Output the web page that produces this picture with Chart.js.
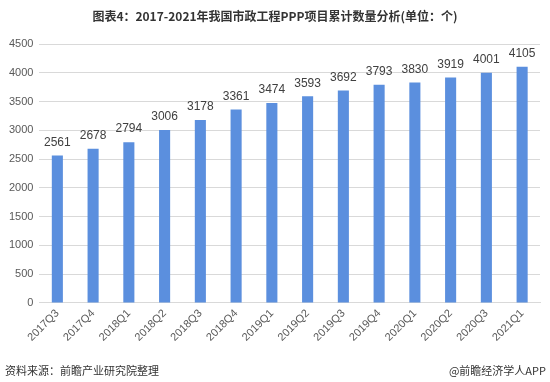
<!DOCTYPE html>
<html>
<head>
<meta charset="utf-8">
<script src="https://cdn.jsdelivr.net/npm/chart.js@4/dist/chart.umd.min.js"></script>
<style>
  html, body { margin: 0; padding: 0; background: #fff; }
  #wrap { position: relative; width: 550px; height: 382px; overflow: hidden; }
  #c { position: absolute; left: 0; top: 0; }
  .title { position: absolute; top: 7px; left: 0; width: 550px; text-align: center;
    font-family: "Noto Sans CJK SC", sans-serif; font-weight: bold; font-size: 12px; color: #333; }
  .src { position: absolute; top: 362px; left: 5px; font-family: "Noto Sans CJK SC", sans-serif; font-size: 11px; color: #333; }
  .app { position: absolute; top: 362px; right: 4px; font-family: "Noto Sans CJK SC", sans-serif; font-size: 11px; color: #333; }
</style>
</head>
<body>
<div id="wrap">
  <canvas id="c" width="550" height="382"></canvas>
  <div class="title">图表4：2017-2021年我国市政工程PPP项目累计数量分析(单位：个)</div>
  <div class="src">资料来源：前瞻产业研究院整理</div>
  <div class="app">@前瞻经济学人APP</div>
</div>
<script>
const categories = ["2017Q3","2017Q4","2018Q1","2018Q2","2018Q3","2018Q4","2019Q1","2019Q2","2019Q3","2019Q4","2020Q1","2020Q2","2020Q3","2021Q1"];
const values = [2561,2678,2794,3006,3178,3361,3474,3593,3692,3793,3830,3919,4001,4105];

const valueLabels = {
  id: 'valueLabels',
  afterDatasetsDraw(chart) {
    const ctx = chart.ctx;
    const meta = chart.getDatasetMeta(0);
    ctx.save();
    ctx.font = '12px "Liberation Sans", Arial, sans-serif';
    ctx.fillStyle = '#404040';
    ctx.textAlign = 'center';
    ctx.textBaseline = 'bottom';
    meta.data.forEach((bar, i) => {
      ctx.fillText(String(values[i]), bar.x, bar.y - 7);
    });
    ctx.restore();
  }
};

new Chart(document.getElementById('c'), {
  type: 'bar',
  data: {
    labels: categories,
    datasets: [{
      data: values,
      backgroundColor: '#5b8fde',
      barPercentage: 0.62,
      categoryPercentage: 0.5
    }]
  },
  options: {
    responsive: false,
    animation: false,
    layout: { padding: { top: 44, left: 3, right: 10, bottom: 34 } },
    plugins: { legend: { display: false }, tooltip: { enabled: false }, title: { display: false } },
    scales: {
      x: {
        grid: { display: false, drawTicks: false },
        border: { display: true, color: '#d9d9d9' },
        ticks: {
          minRotation: 45, maxRotation: 45, padding: 4,
          color: '#595959',
          font: { family: '"Liberation Sans", Arial, sans-serif', size: 11 }
        }
      },
      y: {
        min: 0, max: 4500,
        grid: { color: '#d9d9d9', drawTicks: false },
        border: { display: false },
        ticks: {
          stepSize: 500, padding: 6,
          color: '#595959',
          callback: v => String(v),
          font: { family: '"Liberation Sans", Arial, sans-serif', size: 11 }
        }
      }
    }
  },
  plugins: [valueLabels]
});
</script>
</body>
</html>
